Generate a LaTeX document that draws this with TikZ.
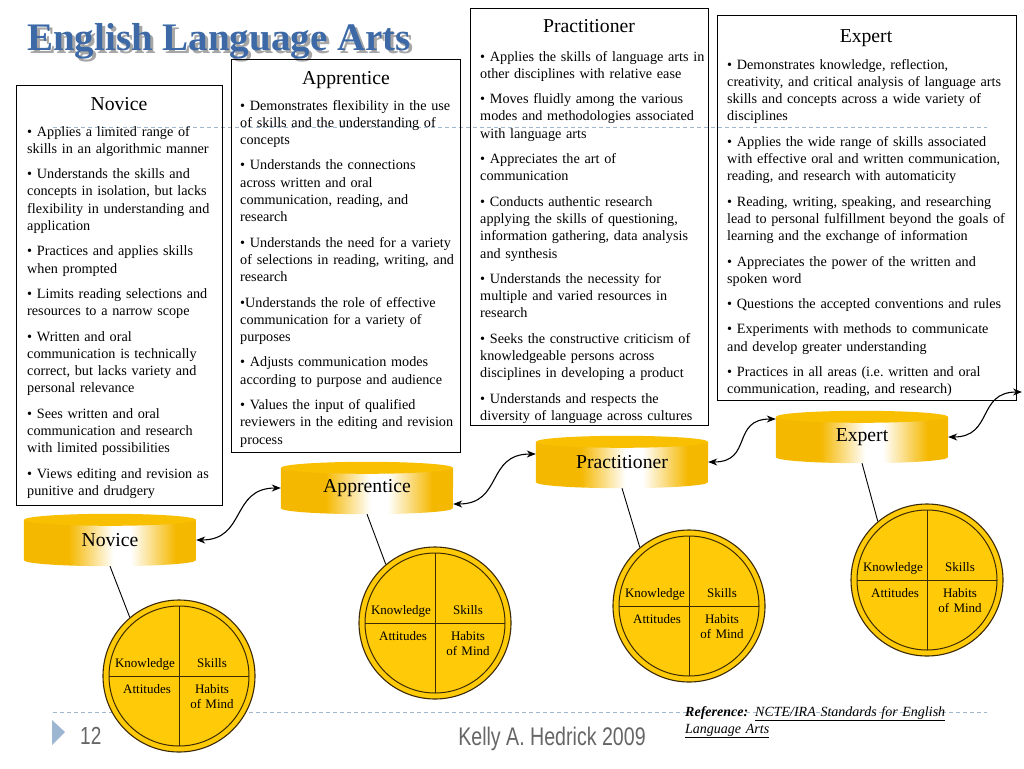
\documentclass[tikz,border=0pt]{standalone}
\usepackage{fontspec}
\setmainfont{Liberation Serif}
\newfontfamily\footfont{Liberation Sans}
\usepackage{graphicx}
\usepackage{tikz}
\usetikzlibrary{positioning, arrows.meta, calc, backgrounds}

\definecolor{titleblue}{RGB}{61,106,166}
\definecolor{titleshadow}{RGB}{166,166,166}
\definecolor{cylgold}{RGB}{245,184,0}
\definecolor{cyltop}{RGB}{248,192,0}
\definecolor{wheelgold}{RGB}{255,202,8}
\definecolor{wheelline}{RGB}{59,42,5}
\definecolor{ruleblue}{RGB}{159,182,205}
\definecolor{triblue}{RGB}{157,183,211}
\definecolor{footgray}{RGB}{102,102,102}
\pgfdeclarehorizontalshading{cylshade}{100bp}{color(0bp)=(cylgold); color(25bp)=(cylgold); color(38bp)=(cylgold); color(51bp)=(white); color(56bp)=(white); color(69bp)=(cylgold); color(75bp)=(cylgold); color(100bp)=(cylgold)}

\begin{document}
\begin{tikzpicture}[x=1pt, y=-1pt,
  stagebox/.style={draw=black, line width=1.3pt, anchor=north west, inner sep=0pt},
  boxtitle/.style={anchor=base, inner sep=0pt, font=\fontsize{19.7pt}{22pt}\selectfont},
  boxlist/.style={anchor=base west, inner sep=0pt, text width=#1, align=left, font=\fontsize{14.2pt}{17.3pt}\selectfont},
  cyl/.style={minimum width=172pt, minimum height=40pt, inner sep=0pt, font=\fontsize{19.7pt}{22pt}\selectfont},
  wheel/.style={circle, draw=wheelline, fill=wheelgold, line width=1.1pt, minimum size=152pt, inner sep=0pt},
  wlabel/.style={anchor=base, inner sep=0pt, text width=60pt, align=center, font=\fontsize{13pt}{15pt}\selectfont},
  link/.style={{Stealth[length=9pt,width=7pt]}-{Stealth[length=9pt,width=7pt]}, line width=1.1pt},
  stem/.style={line width=0.9pt},
  rule/.style={draw=ruleblue, dash pattern=on 4pt off 3pt, line width=0.8pt}]

\useasboundingbox (0,0) rectangle (1024,768);

\draw[rule] (53,127) -- (987,127);
\draw[rule] (53,712) -- (987,712);

% title
\node[anchor=base west, inner sep=0pt, text=titleblue, font=\bfseries\fontsize{39pt}{42pt}\selectfont] (title) at (27,50) {\rlap{\hspace{3pt}\raisebox{-3pt}{\textcolor{titleshadow}{English Language Arts}}}English Language Arts};

% stage boxes
\node[stagebox, minimum width=206pt, minimum height=420pt] (novbox) at (16,85) {};
\node[stagebox, minimum width=229pt, minimum height=393pt] (appbox) at (231,59) {};
\node[stagebox, minimum width=238pt, minimum height=417pt] (pracbox) at (470,8) {};
\node[stagebox, minimum width=299pt, minimum height=385pt] (expbox) at (717,15) {};

\node[boxtitle] (novtitle) at (119,110) {Novice};
\node[boxtitle] (apptitle) at (346,84) {Apprentice};
\node[boxtitle] (practitle) at (589,33) {Practitioner};
\node[boxtitle] (exptitle) at (866,42) {Expert};

\node[boxlist=200pt] (novlist) at (27,136) {%
• Applies a limited range of\\
skills in an algorithmic manner\\[8pt]
• Understands the skills and\\
concepts in isolation, but lacks\\
flexibility in understanding and\\
application\\[8pt]
• Practices and applies skills\\
when prompted\\[8pt]
• Limits reading selections and\\
resources to a narrow scope\\[8pt]
• Written and oral\\
communication is technically\\
correct, but lacks variety and\\
personal relevance\\[8pt]
• Sees written and oral\\
communication and research\\
with limited possibilities\\[8pt]
• Views editing and revision as\\
punitive and drudgery};

\node[boxlist=222pt] (applist) at (240,110) {%
• Demonstrates flexibility in the use\\
of skills and the understanding of\\
concepts\\[8pt]
• Understands the connections\\
across written and oral\\
communication, reading, and\\
research\\[8pt]
• Understands the need for a variety\\
of selections in reading, writing, and\\
research\\[8pt]
•Understands the role of effective\\
communication for a variety of\\
purposes\\[8pt]
• Adjusts communication modes\\
according to purpose and audience\\[8pt]
• Values the input of qualified\\
reviewers in the editing and revision\\
process};

\node[boxlist=230pt] (praclist) at (480,61) {%
• Applies the skills of language arts in\\
other disciplines with relative ease\\[8pt]
• Moves fluidly among the various\\
modes and methodologies associated\\
with language arts\\[8pt]
• Appreciates the art of\\
communication\\[8pt]
• Conducts authentic research\\
applying the skills of questioning,\\
information gathering, data analysis\\
and synthesis\\[8pt]
• Understands the necessity for\\
multiple and varied resources in\\
research\\[8pt]
• Seeks the constructive criticism of\\
knowledgeable persons across\\
disciplines in developing a product\\[8pt]
• Understands and respects the\\
diversity of language across cultures};

\node[boxlist=290pt] (explist) at (727,69) {%
• Demonstrates knowledge, reflection,\\
creativity, and critical analysis of language arts\\
skills and concepts across a wide variety of\\
disciplines\\[8pt]
• Applies the wide range of skills associated\\
with effective oral and written communication,\\
reading, and research with automaticity\\[8pt]
• Reading, writing, speaking, and researching\\
lead to personal fulfillment beyond the goals of\\
learning and the exchange of information\\[8pt]
• Appreciates the power of the written and\\
spoken word\\[8pt]
• Questions the accepted conventions and rules\\[8pt]
• Experiments with methods to communicate\\
and develop greater understanding\\[8pt]
• Practices in all areas (i.e.\ written and oral\\
communication, reading, and research)};

% cylinders
\node[cyl] (novcyl) at (110,540) {Novice};
\node[cyl] (appcyl) at (367,488) {Apprentice};
\node[cyl] (praccyl) at (622,462) {Practitioner};
\node[cyl] (expcyl) at (862,437) {Expert};
\coordinate (rimedge) at (1022,392);

\begin{pgfonlayer}{background}
\fill[white] (0,0) rectangle (1024,768);
\foreach \c in {novcyl, appcyl, praccyl, expcyl} {
  \shade[shading=cylshade] (\c.north west) -- (\c.south west) arc[start angle=180, end angle=360, x radius=86pt, y radius=6pt] -- (\c.north east) -- cycle;
  \fill[cyltop] (\c.north) ellipse[x radius=86pt, y radius=6pt];
}
\end{pgfonlayer}

\draw[link] (novcyl.east) .. controls +(50,0) and +(-50,0) .. (appcyl.west);
\draw[link] ([yshift=-16pt]appcyl.east) .. controls +(50,0) and +(-50,0) .. ([yshift=8pt]praccyl.west);
\draw[link] (praccyl.east) .. controls +(45,0) and +(-45,0) .. ([yshift=18pt]expcyl.west);
\draw[link] (expcyl.east) .. controls +(45,0) and +(-45,0) .. (rimedge);

% wheels
\node[wheel] (novwheel) at (179,676) {};
\node[wheel] (appwheel) at (435,623) {};
\node[wheel] (pracwheel) at (689,606) {};
\node[wheel] (expwheel) at (927,580) {};

\foreach \w in {novwheel, appwheel, pracwheel, expwheel} {
  \draw[draw=wheelline, line width=1pt] (\w.center) circle[radius=70pt];
  \draw[draw=wheelline, line width=1pt] ($(\w.center)+(0,-70)$) -- ($(\w.center)+(0,70)$);
  \draw[draw=wheelline, line width=1pt] ($(\w.center)+(-70,0)$) -- ($(\w.center)+(70,0)$);
  \node[wlabel] (\w-know) at ($(\w.center)+(-34,-9)$) {Knowledge};
  \node[wlabel] (\w-skill) at ($(\w.center)+(33,-9)$) {Skills};
  \node[wlabel] (\w-att) at ($(\w.center)+(-32,17)$) {Attitudes};
  \node[wlabel] (\w-hab) at ($(\w.center)+(33,17)$) {Habits\\of Mind};
}

\draw[stem] ([yshift=-6pt]novcyl.south) -- (novwheel.130);
\draw[stem] ([yshift=-6pt]appcyl.south) -- (appwheel.130);
\draw[stem] ([yshift=-6pt]praccyl.south) -- (pracwheel.130);
\draw[stem] ([yshift=-6pt]expcyl.south) -- (expwheel.130);

% footer
\fill[triblue] (52,720) -- (65,732) -- (52,745) -- cycle;
\node[anchor=base west, inner sep=0pt, text=footgray, font=\footfont\fontsize{19pt}{22pt}\selectfont] (pageno) at (80,744) {\scalebox{1}[1.3]{12}};
\node[anchor=base, inner sep=0pt, text=footgray, font=\footfont\fontsize{19.6pt}{22pt}\selectfont] (author) at (552,745) {\scalebox{1}[1.3]{Kelly A. Hedrick 2009}};
\node[anchor=base west, inner sep=0pt, text width=300pt, align=left, font=\itshape\fontsize{14pt}{17pt}\selectfont] (source) at (685,716) {%
{\bfseries Reference:} \underline{NCTE/IRA Standards for English}\\
\underline{Language Arts}};

\end{tikzpicture}
\end{document}
